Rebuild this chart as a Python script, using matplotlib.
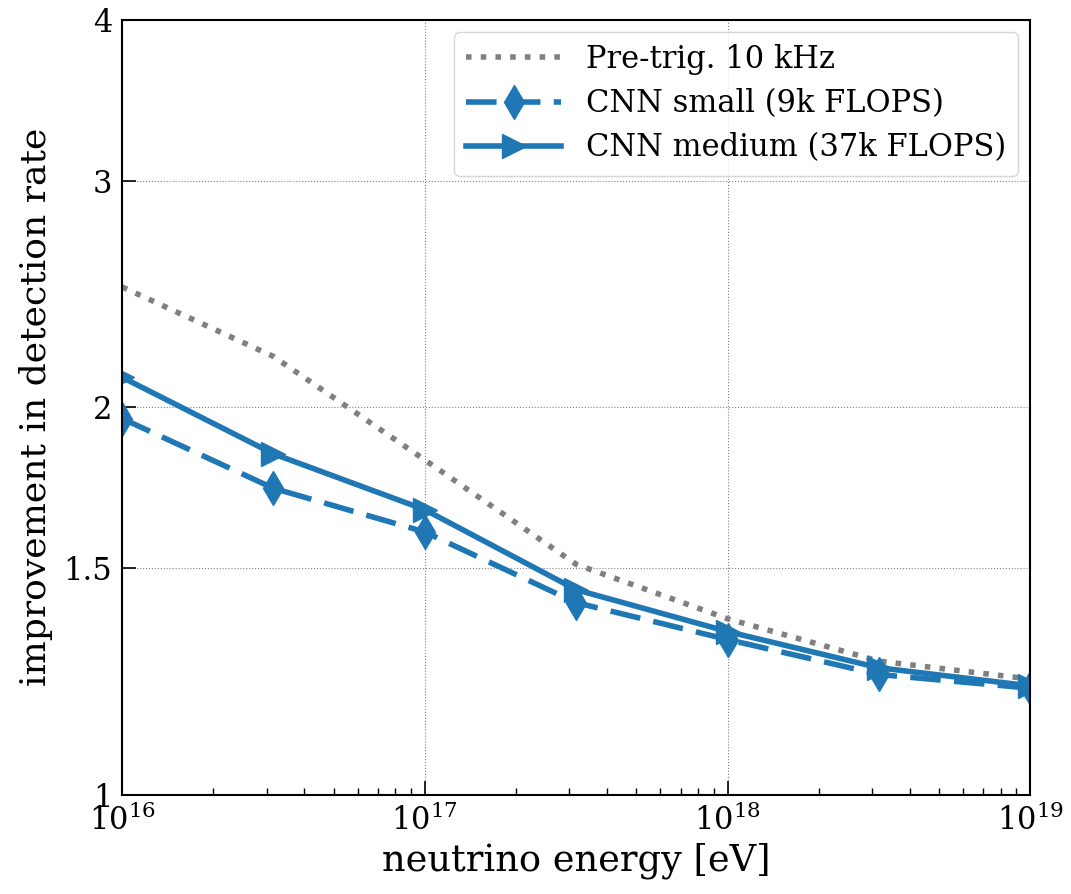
import numpy as np
import matplotlib
matplotlib.use("Agg")
import matplotlib.pyplot as plt
from matplotlib.ticker import FixedLocator, FixedFormatter, NullLocator

plt.rcParams["font.family"] = "DejaVu Serif"
plt.rcParams["mathtext.fontset"] = "dejavuserif"

# data
energy = [1e16, 10**16.5, 1e17, 10**17.5, 1e18, 10**18.5, 1e19]
pretrig = [2.48, 2.19, 1.82, 1.51, 1.37, 1.27, 1.23]
cnn_small = [1.96, 1.73, 1.60, 1.41, 1.32, 1.24, 1.21]
cnn_medium = [2.11, 1.84, 1.665, 1.443, 1.339, 1.255, 1.215]
yticks = [1, 1.5, 2, 3, 4]
yticklabels = ["1", "1.5", "2", "3", "4"]

fig, ax = plt.subplots(figsize=(10.71, 8.94), dpi=100)
fig.subplots_adjust(left=0.114, right=0.962, top=0.978, bottom=0.111)

ax.plot(energy, pretrig, ls=":", color="gray", lw=4, label="Pre-trig. 10 kHz")
ax.plot(energy, cnn_small, ls="--", color="#1f77b4", lw=4, marker="d",
        markersize=17, dashes=(5.5, 2.4), label="CNN small (9k FLOPS)")
ax.plot(energy, cnn_medium, ls="-", color="#1f77b4", lw=4, marker=">",
        markersize=17, label="CNN medium (37k FLOPS)")

ax.set_xscale("log")
ax.set_yscale("log")
ax.set_xlim(1e16, 1e19)
ax.set_ylim(1, 4)
ax.yaxis.set_major_locator(FixedLocator(yticks))
ax.yaxis.set_major_formatter(FixedFormatter(yticklabels))
ax.yaxis.set_minor_locator(NullLocator())

ax.tick_params(which="both", direction="in", top=False, right=False)
ax.tick_params(which="major", length=10, width=1.2, labelsize=22, pad=7)
ax.tick_params(which="minor", length=5, width=1)
for s in ax.spines.values():
    s.set_linewidth(1.5)

ax.grid(True, which="major", ls=":", color="gray", lw=0.8)
ax.set_xlabel("neutrino energy [eV]", fontsize=26.5, labelpad=4)
ax.set_ylabel("improvement in detection rate", fontsize=26, labelpad=8)
ax.legend(loc="upper right", fontsize=22, handlelength=3.1,
          borderaxespad=0.4, labelspacing=0.43)

fig.savefig("out.png", dpi=100)
